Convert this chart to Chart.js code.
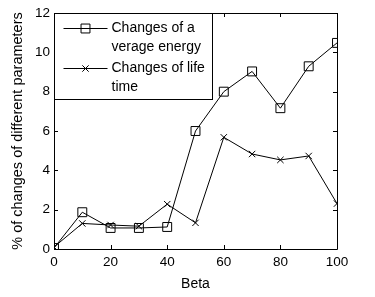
<!doctype html>
<html><head><meta charset="utf-8">
<script src="https://cdn.jsdelivr.net/npm/chart.js@4/dist/chart.umd.min.js"></script>
<style>
* { margin:0; padding:0; }
html,body { width:375px; height:297px; overflow:hidden; background:#fff; }
</style></head>
<body>
<canvas id="c" width="375" height="297"></canvas>
<script>
const beta = [0, 10, 20, 30, 40, 50, 60, 70, 80, 90, 100];
const avgEnergy = [0.05, 1.87, 1.07, 1.07, 1.12, 6.0, 8.0, 9.03, 7.16, 9.29, 10.48];
const lifeTime = [0.1, 1.3, 1.22, 1.16, 2.28, 1.33, 5.68, 4.83, 4.53, 4.73, 2.31];
const xTicks = [0, 20, 40, 60, 80, 100];
const yTicks = [0, 2, 4, 6, 8, 10, 12];
const legendText = [['Changes of a', 'verage energy'], ['Changes of life', 'time']];

const FONT = "'Liberation Sans', Arial, sans-serif";

// box, mirrored inward ticks and the in-axes legend, like the MATLAB original
const frame = {
  id: 'frame',
  afterDatasetsDraw(chart) {
    const { ctx, chartArea: a, scales: { x, y } } = chart;
    ctx.save();
    ctx.strokeStyle = '#000';
    ctx.lineWidth = 1;
    ctx.beginPath();
    ctx.rect(Math.round(a.left) + 0.5, Math.round(a.top) + 0.5,
      Math.round(a.right - a.left), Math.round(a.bottom - a.top));
    xTicks.forEach(v => {
      const px = Math.round(x.getPixelForValue(v)) + 0.5;
      ctx.moveTo(px, a.bottom); ctx.lineTo(px, a.bottom - 4);
      ctx.moveTo(px, a.top); ctx.lineTo(px, a.top + 4);
    });
    yTicks.forEach(v => {
      const py = Math.round(y.getPixelForValue(v)) + 0.5;
      ctx.moveTo(a.left, py); ctx.lineTo(a.left + 4, py);
      ctx.moveTo(a.right, py); ctx.lineTo(a.right - 4, py);
    });
    ctx.stroke();

    // legend
    const lx = Math.round(a.left) + 0.5, ly = Math.round(a.top) + 0.5;
    ctx.fillStyle = '#fff';
    ctx.fillRect(lx, ly, 158, 86);
    ctx.strokeRect(lx, ly, 158, 86);
    ctx.font = '14px ' + FONT;
    ctx.textBaseline = 'middle';
    const rows = [28, 68];
    chart.data.datasets.forEach((ds, i) => {
      const cy = rows[i] + 0.5;
      ctx.beginPath();
      ctx.moveTo(lx + 9, cy); ctx.lineTo(lx + 53, cy);
      ctx.stroke();
      ctx.fillStyle = 'rgba(0,0,0,0)';
      Chart.helpers.drawPoint(ctx, { pointStyle: ds.pointStyle, radius: ds.pointRadius, borderWidth: 1 }, lx + 31, cy);
      ctx.fillStyle = '#000';
      legendText[i].forEach((t, j) => ctx.fillText(t, lx + 57, rows[i] + j * 19));
    });
    ctx.restore();
  }
};

new Chart(document.getElementById('c'), {
  type: 'line',
  data: {
    labels: beta,
    datasets: [
      { data: avgEnergy, borderColor: '#000', borderWidth: 1, pointStyle: 'rect', pointRadius: 6.3,
        pointBorderColor: '#000', pointBackgroundColor: 'rgba(0,0,0,0)', pointBorderWidth: 1, tension: 0 },
      { data: lifeTime, borderColor: '#000', borderWidth: 1, pointStyle: 'crossRot', pointRadius: 4.5,
        pointBorderColor: '#000', pointBorderWidth: 1, tension: 0 }
    ]
  },
  options: {
    responsive: false, animation: false, devicePixelRatio: 1,
    layout: { padding: { top: 13, right: 38, left: 0, bottom: 0 } },
    plugins: { legend: { display: false }, tooltip: { enabled: false } },
    scales: {
      x: {
        type: 'linear', min: 0, max: 100,
        afterBuildTicks: s => { s.ticks = xTicks.map(v => ({ value: v })); },
        afterFit: s => { s.height = 48; },
        grid: { display: false, drawTicks: false }, border: { display: false },
        ticks: { color: '#000', font: { family: FONT, size: 13.5 }, padding: 5, maxRotation: 0 },
        title: { display: true, text: 'Beta', color: '#000', font: { family: FONT, size: 14 }, padding: { top: 2, bottom: 4 } }
      },
      y: {
        min: 0, max: 12,
        afterBuildTicks: s => { s.ticks = yTicks.map(v => ({ value: v })); },
        afterFit: s => { s.width = 54; },
        grid: { display: false, drawTicks: false }, border: { display: false },
        ticks: { color: '#000', font: { family: FONT, size: 13.5 }, padding: 4 },
        title: { display: true, text: '% of changes of different parameters', color: '#000', font: { family: FONT, size: 14.5 }, padding: { top: 9, bottom: 4 } }
      }
    }
  },
  plugins: [frame]
});
</script>
</body></html>
